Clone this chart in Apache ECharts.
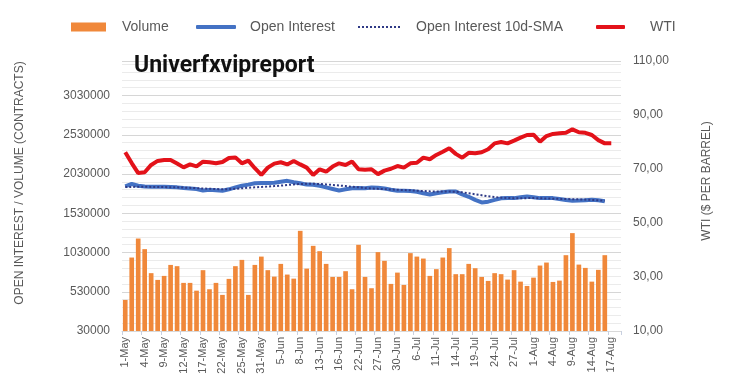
<!DOCTYPE html>
<html><head><meta charset="utf-8">
<script src="https://cdn.jsdelivr.net/npm/echarts@6/dist/echarts.min.js"></script>
<style>html,body{margin:0;padding:0;background:#fff}#c{width:729px;height:383px}</style>
</head><body><div id="c"></div>
<script>
const dates = ['1-May','2-May','3-May','4-May','5-May','8-May','9-May','10-May','11-May','12-May','15-May','16-May','17-May','18-May','19-May','22-May','23-May','24-May','25-May','26-May','30-May','31-May',
'1-Jun','2-Jun','5-Jun','6-Jun','7-Jun','8-Jun','9-Jun','12-Jun','13-Jun','14-Jun','15-Jun','16-Jun','20-Jun','21-Jun','22-Jun','23-Jun','26-Jun','27-Jun','28-Jun','29-Jun','30-Jun',
'3-Jul','5-Jul','6-Jul','7-Jul','10-Jul','11-Jul','12-Jul','13-Jul','14-Jul','17-Jul','18-Jul','19-Jul','20-Jul','21-Jul','24-Jul','25-Jul','26-Jul','27-Jul','28-Jul','31-Jul',
'1-Aug','2-Aug','3-Aug','4-Aug','7-Aug','8-Aug','9-Aug','10-Aug','11-Aug','14-Aug','15-Aug','16-Aug','17-Aug','18-Aug'];

const volume = [426000,966000,1208000,1073000,767000,681000,732000,872000,856000,643000,
643000,544000,805000,562000,643000,490000,694000,856000,936000,490000,
872000,978000,805000,723000,885000,749000,697000,1306000,825000,1115000,
1047000,885000,719000,719000,792000,562000,1128000,719000,575000,1035000,
924000,630000,774000,617000,1022000,978000,953000,732000,818000,966000,
1086000,754000,754000,885000,830000,719000,668000,767000,754000,685000,
805000,659000,604000,710000,864000,902000,655000,672000,996000,1277000,
876000,834000,659000,809000,996000];

const openInterest = [1872000,1903000,1880000,1870000,1868000,1868000,1868000,1866000,1860000,1852000,
1845000,1838000,1820000,1828000,1822000,1817000,1835000,1860000,1880000,1895000,
1912000,1915000,1915000,1920000,1932000,1943000,1925000,1912000,1895000,1894000,
1880000,1860000,1840000,1820000,1835000,1848000,1851000,1850000,1859000,1855000,
1847000,1830000,1817000,1817000,1815000,1805000,1785000,1770000,1785000,1798000,
1808000,1808000,1770000,1740000,1700000,1668000,1678000,1700000,1720000,1723000,
1723000,1735000,1745000,1735000,1723000,1723000,1723000,1712000,1698000,1690000,
1692000,1695000,1702000,1695000,1683000];

const oiSMA = [1865000,1866000,1867000,1867000,1866000,1865000,1864000,1862000,1860000,1857000,
1854000,1850000,1846000,1842000,1838000,1836000,1838000,1842000,1848000,1855000,
1860000,1865000,1870000,1876000,1882000,1890000,1898000,1903000,1906000,1906000,
1903000,1898000,1891000,1884000,1876000,1868000,1860000,1852000,1846000,1841000,
1837000,1833000,1829000,1826000,1822000,1818000,1813000,1809000,1808000,1808000,
1807000,1804000,1797000,1785000,1772000,1759000,1746000,1737000,1729000,1724000,
1722000,1722000,1723000,1723000,1721000,1719000,1716000,1713000,1711000,1709000,
1707000,1704000,1700000,1696000,1690000];

const wti = [76.2,72.2,68.5,68.8,71.5,73.0,73.3,73.3,72.0,70.6,
71.7,71.0,72.7,72.5,72.1,72.6,74.1,74.3,72.1,73.1,
70.3,67.8,70.5,72.0,72.5,71.7,73.0,71.7,70.5,67.8,
69.9,69.0,70.9,72.1,71.5,72.8,69.9,69.7,69.9,68.1,
69.4,70.1,71.1,70.5,72.1,72.3,74.2,73.6,75.2,76.4,
77.7,75.6,74.2,76.0,75.8,76.2,77.3,79.5,80.0,79.5,
80.5,81.6,82.6,82.7,80.1,82.2,83.0,83.2,83.4,84.7,
83.6,83.4,82.6,80.7,79.5,79.5];

const leftTicks = {min: 30000, max: 3470000, step: 500000};
const rightTicks = {min: 10, max: 110, step: 20};

const FONT = 'Liberation Sans';
const GRAY = '#595959';
const chart = echarts.init(document.getElementById('c'), null, {renderer: 'canvas'});

let dots = 'path://';
for (let i = 0; i < 11; i++) dots += 'M' + (i * 4) + ',0h2v2h-2z';

function legendFor(name, left, w, h, pad, icon) {
  return {
    data: [name], left: left, top: 20, padding: 0, itemWidth: w, itemHeight: h, icon: icon,
    textStyle: {fontFamily: FONT, fontSize: 14, color: GRAY, padding: [0, 0, 0, pad]},
    selectedMode: false
  };
}

chart.setOption({
  animation: false,
  textStyle: {fontFamily: FONT},
  title: {
    text: 'Univerfxvipreport', left: 134, top: 55, padding: 0,
    textStyle: {fontFamily: 'Roboto', fontSize: 23, fontWeight: 'bold', color: '#111'}
  },
  legend: [
    legendFor('Volume', 71, 35, 9, 11, 'rect'),
    legendFor('Open Interest', 196, 40, 4, 9, 'roundRect'),
    legendFor('Open Interest 10d-SMA', 358, 44, 2, 10, dots),
    legendFor('WTI', 596, 29, 4, 20, 'roundRect')
  ],
  grid: {left: 122, right: 108, top: 61, bottom: 52},
  xAxis: {
    type: 'category', data: dates, boundaryGap: true,
    axisLine: {lineStyle: {color: '#d9d9d9'}},
    axisTick: {show: true, interval: 2, length: 4, lineStyle: {color: '#c8d0e0'}},
    axisLabel: {interval: 2, rotate: 90, fontSize: 11, color: GRAY, margin: 6, fontFamily: FONT}
  },
  yAxis: [{
    type: 'value', min: leftTicks.min, max: leftTicks.max, interval: leftTicks.step,
    axisLine: {show: false}, axisTick: {show: false},
    axisLabel: {
      fontSize: 12, color: GRAY, margin: 12, fontFamily: FONT,
      formatter: v => ((v - leftTicks.min) % leftTicks.step === 0 ? String(v) : '')
    },
    splitLine: {lineStyle: {color: '#d6d6d6'}},
    minorTick: {show: false, splitNumber: 5},
    minorSplitLine: {show: true, lineStyle: {color: '#ebebeb'}},
    name: 'OPEN INTEREST / VOLUME (CONTRACTS)', nameLocation: 'middle', nameGap: 96,
    nameTextStyle: {fontSize: 12, color: GRAY, fontFamily: FONT, padding: [0, 0, 0, 26]}
  }, {
    type: 'value', position: 'right', min: rightTicks.min, max: rightTicks.max, interval: rightTicks.step,
    axisLine: {show: false}, axisTick: {show: false}, splitLine: {show: false},
    axisLabel: {
      fontSize: 12, color: GRAY, margin: 12, fontFamily: FONT,
      formatter: v => v.toFixed(2).replace('.', ',')
    },
    name: 'WTI ($ PER BARREL)', nameLocation: 'middle', nameGap: 80, nameRotate: 90,
    nameTextStyle: {fontSize: 12, color: GRAY, fontFamily: FONT, padding: [0, 0, 0, 30]}
  }],
  series: [{
    name: 'Volume', type: 'bar', data: volume, yAxisIndex: 0,
    barCategoryGap: '28%', itemStyle: {color: '#F0883A'}, z: 1
  }, {
    name: 'Open Interest', type: 'line', data: openInterest, yAxisIndex: 0,
    symbol: 'none', lineStyle: {color: '#4472C4', width: 4}, itemStyle: {color: '#4472C4'}, z: 3
  }, {
    name: 'Open Interest 10d-SMA', type: 'line', data: oiSMA, yAxisIndex: 0,
    symbol: 'none', lineStyle: {color: '#2F3A86', width: 2, type: 'dotted'}, itemStyle: {color: '#2F3A86'}, z: 4
  }, {
    name: 'WTI', type: 'line', data: wti, yAxisIndex: 1,
    symbol: 'none', lineStyle: {color: '#E3121A', width: 4}, itemStyle: {color: '#E3121A'}, z: 5
  }]
});
</script></body></html>
